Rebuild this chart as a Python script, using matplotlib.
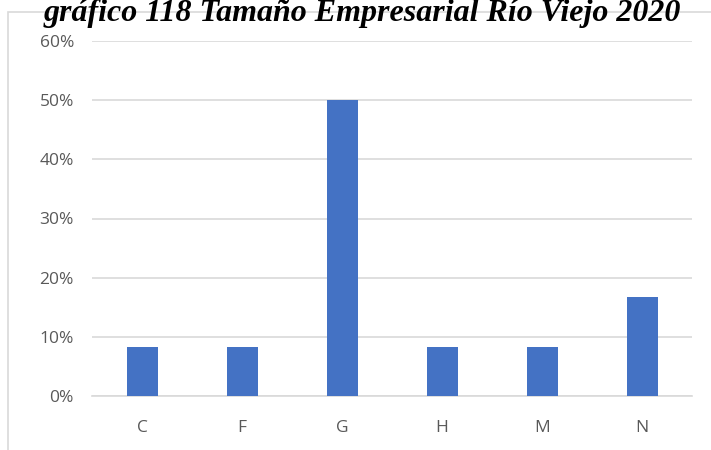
import matplotlib.pyplot as plt
from matplotlib.patches import Rectangle
from matplotlib.ticker import PercentFormatter

categories = ["C", "F", "G", "H", "M", "N"]
shares = [8.33, 8.33, 50.0, 8.33, 8.33, 16.67]
title = "gráfico 118 Tamaño Empresarial Río Viejo 2020"

fig = plt.figure(figsize=(7.11, 4.5), dpi=100)

# chart frame (light border like the spreadsheet chart)
fig.patches.append(Rectangle((8 / 711, -0.01), 1.0, 1 - 12 / 450 + 0.01,
                             transform=fig.transFigure, fill=False,
                             edgecolor="#d9d9d9", linewidth=1.2))

ax = fig.add_axes([92 / 711, 1 - 396 / 450, 600 / 711, 355 / 450])
x = range(len(categories))
ax.bar(x, shares, width=0.31, color="#4472c4", zorder=3)

ax.set_ylim(0, 60)
ax.set_xlim(-0.5, len(categories) - 0.5)
ax.set_yticks(range(0, 61, 10))
ax.yaxis.set_major_formatter(PercentFormatter(decimals=0))
ax.set_xticks(list(x))
ax.set_xticklabels(categories)
ax.grid(axis="y", color="#d9d9d9", linewidth=1.2, zorder=0)
for s in ["top", "right", "left"]:
    ax.spines[s].set_visible(False)
ax.spines["bottom"].set_color("#d9d9d9")
ax.spines["bottom"].set_linewidth(1.2)
ax.tick_params(length=0, labelsize=12.5, labelcolor="#595959",
               labelfontfamily="Open Sans")
ax.tick_params(axis="x", pad=17)
ax.tick_params(axis="y", pad=13)

fig.text(0.51, 1 - 21 / 450, title, ha="center", va="baseline",
         fontsize=23, fontweight="bold", fontstyle="italic",
         family="Liberation Serif", color="#000000")

fig.savefig("out.png", dpi=100)
